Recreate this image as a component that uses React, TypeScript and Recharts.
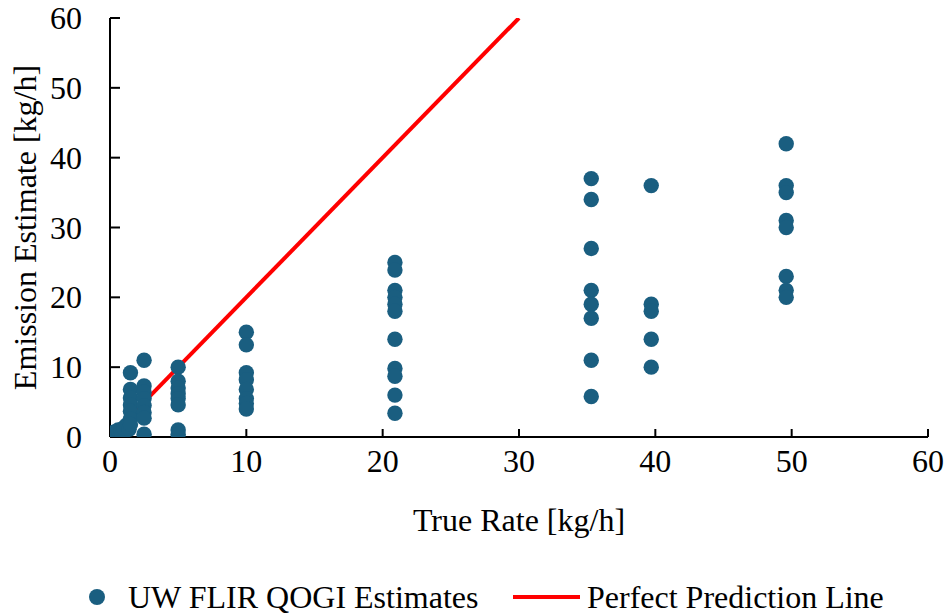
import { Scatter, ScatterChart, XAxis, YAxis } from "recharts";

const FONT = '"Liberation Serif", "Times New Roman", serif';
const TEAL = "#1a5e80";
const RED = "#ff0000";

// true release rate [kg/h] and matching QOGI estimate [kg/h]
const trueRate = [
  0.05, 0.1, 0.2, 0.3, 0.5, 0.6, 0.8, 0.9, 1.0, 1.2, 1.4,
  1.5, 1.5, 1.5, 1.5, 1.5, 1.5, 1.5,
  2.5, 2.5, 2.5, 2.5, 2.5, 2.5, 2.5, 2.5,
  5, 5, 5, 5, 5, 5, 5, 5,
  10, 10, 10, 10, 10, 10, 10, 10,
  20.9, 20.9, 20.9, 20.9, 20.9, 20.9, 20.9, 20.9, 20.9, 20.9, 20.9,
  35.3, 35.3, 35.3, 35.3, 35.3, 35.3, 35.3, 35.3,
  39.7, 39.7, 39.7, 39.7, 39.7,
  49.6, 49.6, 49.6, 49.6, 49.6, 49.6, 49.6, 49.6,
];
const estimate = [
  0.1, 0.4, 0.2, 0.7, 0.5, 1.0, 0.8, 0.3, 1.3, 1.7, 1.1,
  9.2, 6.8, 5.6, 4.6, 3.7, 2.6, 1.8,
  11, 7.3, 6.4, 5.5, 4.5, 3.5, 2.7, 0.4,
  10, 8, 7, 6.2, 5.5, 4.6, 1.0, 0.4,
  15, 13.2, 9.2, 8.2, 6.8, 5.5, 4.8, 4.0,
  25, 23.9, 21, 20, 19, 18, 14, 9.8, 8.7, 6, 3.4,
  37, 34, 27, 21, 19, 17, 11, 5.8,
  36, 19, 18, 14, 10,
  42, 36, 35, 31, 30, 23, 21, 20,
];

// perfect prediction line end points
const lineX = [0, 30];
const lineY = [0, 60];

const axisTicks = [0, 10, 20, 30, 40, 50, 60];

const points = trueRate.map((x, i) => ({ x, y: estimate[i] }));
const perfect = lineX.map((x, i) => ({ x, y: lineY[i] }));

const XTick = ({ x, y, payload }: any) => (
  <text x={x} y={y + 24} textAnchor="middle" fontSize={32} fontFamily={FONT} fill="#000">
    {payload.value}
  </text>
);

const YTick = ({ x, y, payload }: any) => (
  <text x={x} y={y + 11} textAnchor="end" fontSize={32} fontFamily={FONT} fill="#000">
    {payload.value}
  </text>
);

export default function App() {
  return (
    <div style={{ position: "absolute", left: 0, top: 0, width: 951, height: 615, background: "#fff" }}>
      <ScatterChart width={951} height={615} margin={{ top: 18, right: 23, left: 0, bottom: 0 }}>
        <XAxis
          type="number"
          dataKey="x"
          domain={[0, 60]}
          ticks={axisTicks}
          height={178}
          tick={<XTick />}
          tickSize={-8}
          tickMargin={19}
          stroke="#000"
          strokeWidth={2}
          allowDataOverflow
          label={({ viewBox }: any) => (
            <text
              x={viewBox.x + viewBox.width / 2}
              y={viewBox.y + 94}
              textAnchor="middle"
              fontSize={32}
              fontFamily={FONT}
              fill="#000"
            >
              True Rate [kg/h]
            </text>
          )}
        />
        <YAxis
          type="number"
          dataKey="y"
          domain={[0, 60]}
          ticks={axisTicks}
          width={110}
          tick={<YTick />}
          tickSize={-10}
          tickMargin={38}
          stroke="#000"
          strokeWidth={2}
          allowDataOverflow
          label={({ viewBox }: any) => (
            <text
              x={36}
              y={viewBox.y + viewBox.height / 2}
              transform={`rotate(-90, 36, ${viewBox.y + viewBox.height / 2})`}
              textAnchor="middle"
              fontSize={32}
              fontFamily={FONT}
              fill="#000"
            >
              Emission Estimate [kg/h]
            </text>
          )}
        />
        <Scatter
          name="Perfect Prediction Line"
          data={perfect}
          fill={RED}
          line={{ stroke: RED, strokeWidth: 4 }}
          shape={() => <g />}
          isAnimationActive={false}
        />
        <Scatter
          name="UW FLIR QOGI Estimates"
          data={points}
          fill={TEAL}
          shape={(p: any) => <circle cx={p.cx} cy={p.cy} r={7.7} fill={TEAL} />}
          isAnimationActive={false}
        />
      </ScatterChart>
      <div
        style={{
          position: "absolute",
          left: 0,
          top: 578,
          width: 951,
          height: 40,
          fontFamily: FONT,
          fontSize: 32,
          color: "#000",
          lineHeight: "38px",
        }}
      >
        <span style={{ position: "absolute", left: 89, top: 11, width: 16, height: 16, borderRadius: 8, background: TEAL }} />
        <span style={{ position: "absolute", left: 128, top: 0, whiteSpace: "nowrap" }}>UW FLIR QOGI Estimates</span>
        <span style={{ position: "absolute", left: 513, top: 17, width: 67, height: 4, background: RED }} />
        <span style={{ position: "absolute", left: 587, top: 0, whiteSpace: "nowrap" }}>Perfect Prediction Line</span>
      </div>
    </div>
  );
}
